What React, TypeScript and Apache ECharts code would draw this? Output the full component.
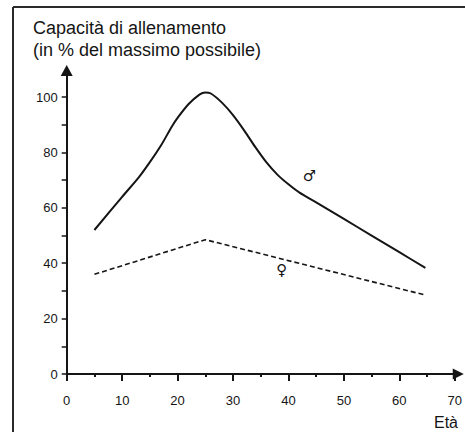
import { useEffect, useRef } from "react";
import * as echarts from "echarts";

// Age (years) and training capacity (% of the maximum possible)
const maleAges = [5, 10, 13, 15, 17, 19, 20, 22, 24, 25, 26, 28, 30, 32, 34, 36, 38, 40, 42, 45, 50, 55, 60, 64.7];
const maleValues = [52, 64, 71, 76.5, 82.5, 89.5, 92.5, 97.5, 101, 101.7, 101.3, 98, 93.5, 88, 82, 76.5, 72, 68.5, 65.5, 62, 56, 50, 44, 38.3];
const femaleAges = [5, 25, 64.7];
const femaleValues = [36, 48.5, 28.5];

const xLabelValues = [0, 10, 20, 30, 40, 50, 60, 70];
const xMinorTickValues = [5, 15, 25, 35, 45, 55, 65];
const yTickValues = [0, 10, 20, 30, 40, 50, 60, 70, 80, 90, 100];
const yLabelValues = [0, 20, 40, 60, 80, 100];

const maleSymbolAt = [43.8, 71.5];
const femaleSymbolAt = [38.8, 37.5];

const titleLines = ["Capacità di allenamento", "(in % del massimo possibile)"];
const xAxisTitle = "Età";

const FONT = "'Liberation Sans', Arial, sans-serif";
const INK = "#151515";

export default function App() {
  const ref = useRef<HTMLDivElement>(null);

  useEffect(() => {
    if (!ref.current) return;
    const chart = echarts.init(ref.current, null, { renderer: "svg" });

    const maleData = maleAges.map((a, i) => [a, maleValues[i]]);
    const femaleData = femaleAges.map((a, i) => [a, femaleValues[i]]);

    chart.setOption({
      animation: false,
      backgroundColor: "#ffffff",
      title: {
        text: titleLines.join("\n"),
        left: 33,
        top: 17,
        padding: 0,
        textStyle: {
          fontFamily: FONT,
          fontSize: 18,
          fontWeight: "normal",
          lineHeight: 22,
          color: INK,
        },
      },
      grid: { left: 66.7, right: 5.5, top: 70.5, bottom: 58, containLabel: false },
      xAxis: [
        {
          type: "value",
          min: 0,
          max: 70.63,
          splitLine: { show: false },
          axisLine: {
            show: true,
            onZero: false,
            symbol: ["none", "triangle"],
            symbolSize: [11, 11],
            lineStyle: { color: INK, width: 2 },
          },
          axisTick: {
            show: true,
            inside: false,
            length: 7,
            customValues: xLabelValues,
            lineStyle: { color: INK, width: 2 },
          },
          axisLabel: {
            show: true,
            customValues: xLabelValues,
            margin: 20,
            fontFamily: FONT,
            fontSize: 13,
            color: INK,
          },
        },
        {
          type: "value",
          min: 0,
          max: 70.63,
          position: "bottom",
          splitLine: { show: false },
          axisLine: { show: false },
          axisTick: {
            show: true,
            inside: false,
            length: 3,
            customValues: xMinorTickValues,
            lineStyle: { color: INK, width: 2 },
          },
          axisLabel: { show: false },
        },
      ],
      yAxis: {
        type: "value",
        min: 0,
        max: 109.6,
        splitLine: { show: false },
        axisLine: {
          show: true,
          onZero: false,
          symbol: ["none", "triangle"],
          symbolSize: [12, 11],
          lineStyle: { color: INK, width: 2 },
        },
        axisTick: {
          show: true,
          inside: false,
          length: 5,
          customValues: yTickValues,
          lineStyle: { color: INK, width: 1.5 },
        },
        axisLabel: {
          show: true,
          customValues: yLabelValues,
          margin: 9,
          fontFamily: FONT,
          fontSize: 13,
          color: INK,
        },
      },
      graphic: [
        {
          type: "line",
          shape: { x1: 13, y1: 7, x2: 13, y2: 432 },
          style: { stroke: "#2a2a2a", lineWidth: 2 },
          silent: true,
        },
        {
          type: "line",
          shape: { x1: 13, y1: 7, x2: 465, y2: 7 },
          style: { stroke: "#2a2a2a", lineWidth: 2 },
          silent: true,
        },
        {
          type: "text",
          right: 7,
          top: 414,
          style: {
            text: xAxisTitle,
            fontFamily: FONT,
            fontSize: 16,
            fill: INK,
          },
        },
      ],
      series: [
        {
          name: "maschi",
          type: "line",
          xAxisIndex: 0,
          data: maleData,
          smooth: 0.3,
          showSymbol: false,
          lineStyle: { color: INK, width: 2 },
          markPoint: {
            symbol: "circle",
            symbolSize: 1,
            itemStyle: { color: "rgba(0,0,0,0)" },
            label: {
              show: true,
              position: "inside",
              formatter: "♂",
              fontFamily: "'DejaVu Sans', sans-serif",
              fontSize: 15,
              fontWeight: "bold",
              color: INK,
            },
            data: [{ coord: maleSymbolAt }],
          },
        },
        {
          name: "femmine",
          type: "line",
          xAxisIndex: 0,
          data: femaleData,
          showSymbol: false,
          lineStyle: { color: INK, width: 1.6, type: [5, 3] },
          markPoint: {
            symbol: "circle",
            symbolSize: 1,
            itemStyle: { color: "rgba(0,0,0,0)" },
            label: {
              show: true,
              position: "inside",
              formatter: "♀",
              fontFamily: "'DejaVu Sans', sans-serif",
              fontSize: 15,
              fontWeight: "bold",
              color: INK,
            },
            data: [{ coord: femaleSymbolAt }],
          },
        },
      ],
    });

    return () => chart.dispose();
  }, []);

  return (
    <div
      ref={ref}
      style={{ position: "fixed", left: 0, top: 0, width: 465, height: 432, background: "#fff" }}
    />
  );
}
